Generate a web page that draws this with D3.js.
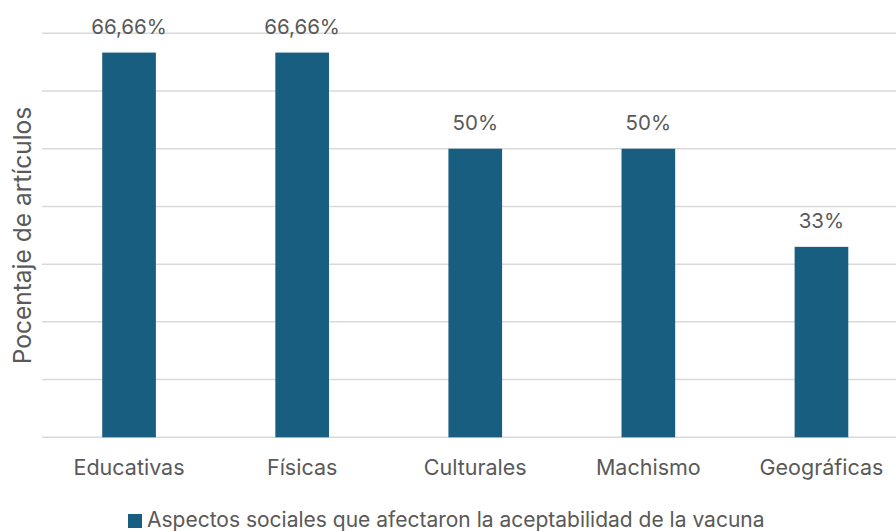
<!DOCTYPE html>
<html>
<head>
<meta charset="utf-8">
<script src="https://cdn.jsdelivr.net/npm/d3@7"></script>
<style>
  body { margin: 0; background: #fff; }
  text { font-family: Inter, "Noto Sans", sans-serif; fill: #595959; }
</style>
</head>
<body>
<div id="chart"></div>
<script>
// chart data
const categories = ["Educativas", "Físicas", "Culturales", "Machismo", "Geográficas"];
const values = [66.66, 66.66, 50, 50, 33];
const valueLabels = ["66,66%", "66,66%", "50%", "50%", "33%"];
const yTicks = [0, 10, 20, 30, 40, 50, 60, 70];
const seriesName = "Aspectos sociales que afectaron la aceptabilidad de la vacuna";
const yTitle = "Pocentaje de artículos";

const W = 896, H = 531;
const barColor = "#185e80";

const svg = d3.select("#chart").append("svg")
    .attr("width", W).attr("height", H);

// scales
const x = d3.scaleBand()
    .domain(categories)
    .range([42.5, 908])
    .paddingInner(0.69)
    .paddingOuter(0.345);
const y = d3.scaleLinear()
    .domain([0, 70])
    .range([437.3, 33.3]);

// gridlines
svg.append("g")
    .selectAll("line")
    .data(yTicks)
    .enter()
    .append("line")
    .attr("x1", 42).attr("x2", W)
    .attr("y1", d => y(d)).attr("y2", d => y(d))
    .attr("stroke", "#d9d9d9")
    .attr("stroke-width", 1.5);

// bars
svg.append("g")
    .selectAll("rect")
    .data(values)
    .enter()
    .append("rect")
    .attr("x", (d, i) => x(categories[i]))
    .attr("y", d => y(d))
    .attr("width", x.bandwidth())
    .attr("height", d => y(0) - y(d))
    .attr("fill", barColor);

// data labels
svg.append("g")
    .selectAll("text")
    .data(values)
    .enter()
    .append("text")
    .attr("x", (d, i) => x(categories[i]) + x.bandwidth() / 2)
    .attr("y", d => y(d) - 19)
    .attr("text-anchor", "middle")
    .style("font-size", "20.5px")
    .text((d, i) => valueLabels[i]);

// x axis labels
svg.append("g")
    .selectAll("text")
    .data(categories)
    .enter()
    .append("text")
    .attr("x", d => x(d) + x.bandwidth() / 2)
    .attr("y", 474.5)
    .attr("text-anchor", "middle")
    .style("font-size", "21.5px")
    .text(d => d);

// y title
svg.append("text")
    .attr("transform", "translate(30.5,235.5)rotate(-90)")
    .attr("text-anchor", "middle")
    .style("font-size", "24.5px")
    .text(yTitle);

// legend
const legend = svg.append("g");
legend.append("rect")
    .attr("x", 128).attr("y", 514)
    .attr("width", 14).attr("height", 14)
    .attr("fill", barColor);
legend.append("text")
    .attr("x", 147).attr("y", 527)
    .style("font-size", "21px")
    .text(seriesName);
</script>
</body>
</html>
